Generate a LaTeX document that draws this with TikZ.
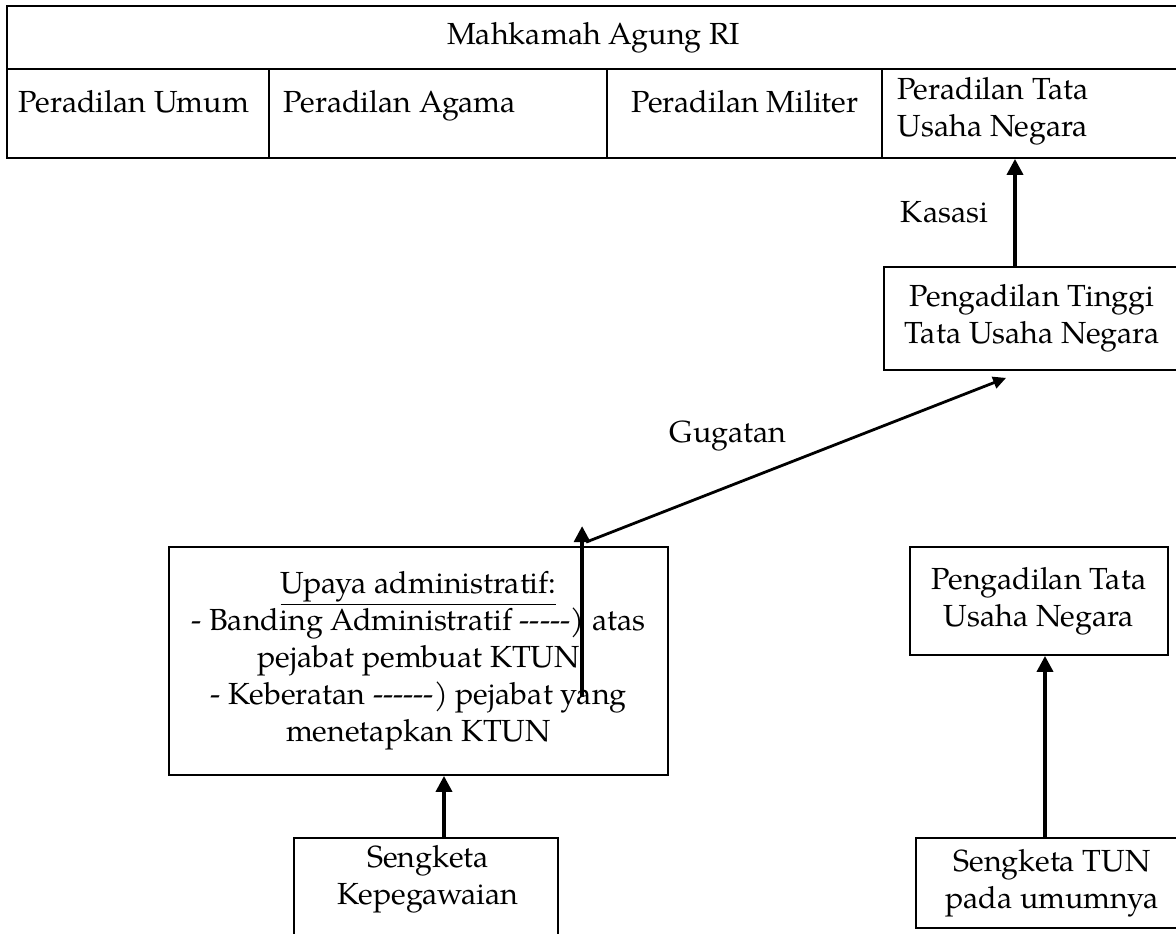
\documentclass[tikz,border=0pt]{standalone}
\usepackage{fontspec}
\setmainfont{TeX Gyre Pagella}
\usetikzlibrary{arrows.meta, positioning, calc}

\tikzset{
  box/.style={draw, line width=1.8pt, inner sep=0pt, align=center},
  lbl/.style={inner sep=0pt, align=center},
  link/.style={-{Triangle[length=16pt, width=16pt]}, line width=3.6pt},
  slimlink/.style={-{Triangle[length=13pt, width=12pt]}, line width=2.8pt}
}

\begin{document}
\begin{tikzpicture}[x=1pt, y=-1pt, font=\fontsize{30.5}{37}\selectfont]
  \useasboundingbox (0,0) rectangle (1176,934);

  % Mahkamah Agung with its four courts
  \node[box, minimum width=1173pt, minimum height=63pt] (ma) at (593.5,37.5) {Mahkamah Agung RI};
  \node[box, minimum width=262pt, minimum height=89pt] (umum) at (138,113.5) {};
  \node[box, minimum width=338pt, minimum height=89pt] (agama) at (438,113.5) {};
  \node[box, minimum width=275pt, minimum height=89pt] (militer) at (744.5,113.5) {};
  \node[box, minimum width=298pt, minimum height=89pt] (tun) at (1031,113.5) {};
  \node[lbl] (umumtxt) at (134,102) {Peradilan Umum};
  \node[lbl] (agamatxt) at (400,105.5) {Peradilan Agama};
  \node[lbl] (militertxt) at (745,102) {Peradilan Militer};
  \node[lbl] (tuntxt) at (993,111.5) {Peradilan Tata\\Usaha Negara};

  % Courts and disputes
  \node[box, minimum width=296pt, minimum height=103pt] (pttun) at (1032,318.5)
    {Pengadilan Tinggi\\Tata Usaha Negara};
  \node[box, minimum width=499pt, minimum height=228pt] (upaya) at (418.5,661)
    {\underline{Upaya administratif:}\\
     - Banding Administratif -{}-{}-{}-{}-) atas\\
     pejabat pembuat KTUN\\
     - Keberatan -{}-{}-{}-{}-{}-) pejabat yang\\
     menetapkan KTUN};
  \node[box, minimum width=258pt, minimum height=108pt] (ptun) at (1039,601)
    {Pengadilan Tata\\Usaha Negara};
  \node[box, minimum width=264pt, minimum height=120pt] (kepeg) at (426,898) {};
  \node[lbl] (kepegtxt) at (428,879) {Sengketa\\Kepegawaian};
  \node[box, minimum width=272pt, minimum height=90pt] (umumnya) at (1052,883)
    {Sengketa TUN\\pada umumnya};

  % Arrows
  \coordinate (kasasiA) at ([xshift=-17pt]pttun.north);
  \draw[link] (kasasiA) -- node[lbl, midway, left=25pt] (kasasi) {Kasasi} (kasasiA |- tun.south);

  \coordinate (gugatanA) at ($(upaya.north west)+(418,-4)$);
  \coordinate (gugatanB) at ($(pttun.south west)+(123,7)$);
  \draw[slimlink] (gugatanA) -- node[lbl, pos=0.338, above=34pt] (gugatan) {Gugatan} (gugatanB);

  \coordinate (bandingA) at ($(upaya.north west)+(414,151)$);
  \coordinate (bandingB) at ($(upaya.north west)+(414,-20)$);
  \draw[link] (bandingA) -- (bandingB);

  \draw[link] ([xshift=18pt]kepeg.north) -- ([xshift=18pt]kepeg.north |- upaya.south);
  \draw[link] ([xshift=-7pt]umumnya.north) -- ([xshift=-7pt]umumnya.north |- ptun.south);
\end{tikzpicture}
\end{document}
